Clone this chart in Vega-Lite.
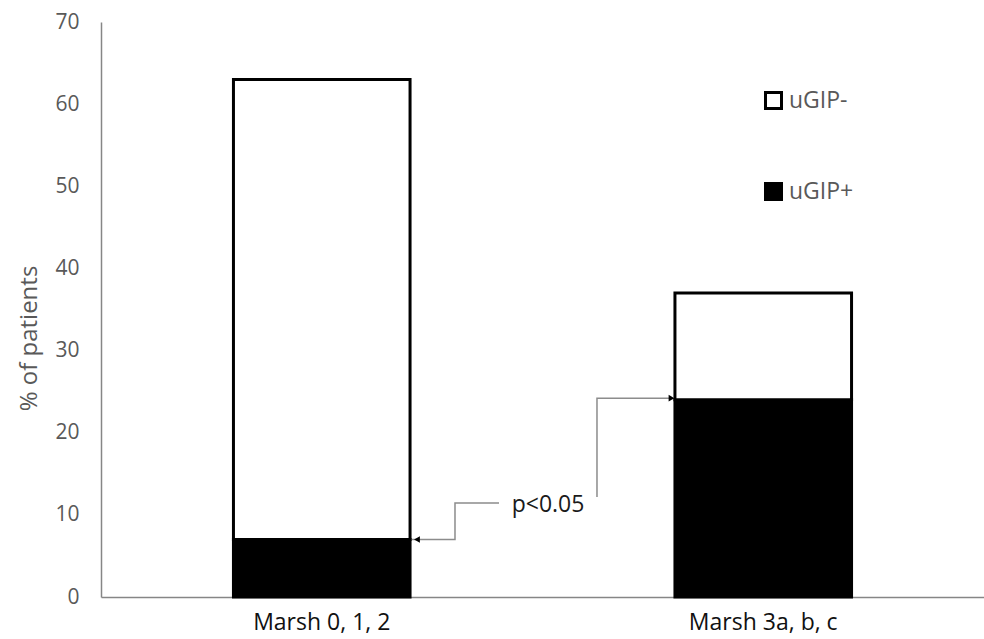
{
  "$schema": "https://vega.github.io/schema/vega-lite/v6.json",
  "width": 883,
  "height": 575,
  "autosize": "none",
  "padding": {"left": 101, "top": 22, "right": 0, "bottom": 42},
  "background": "white",
  "config": {"view": {"stroke": null}},
  "datasets": {
    "bars": [
      {"group": "Marsh 0, 1, 2", "status": "uGIP+", "k": 1, "pct": 7},
      {"group": "Marsh 0, 1, 2", "status": "uGIP-", "k": 2, "pct": 56},
      {"group": "Marsh 3a, b, c", "status": "uGIP+", "k": 1, "pct": 24},
      {"group": "Marsh 3a, b, c", "status": "uGIP-", "k": 2, "pct": 13}
    ],
    "conn": [
      {"seg": "a", "o": 1, "u": 0.7044, "pct": 7},
      {"seg": "a", "o": 2, "u": 0.8018, "pct": 7},
      {"seg": "a", "o": 3, "u": 0.8018, "pct": 11.44},
      {"seg": "a", "o": 4, "u": 0.9015, "pct": 11.44},
      {"seg": "b", "o": 1, "u": 1.1234, "pct": 12.17},
      {"seg": "b", "o": 2, "u": 1.1234, "pct": 24.2},
      {"seg": "b", "o": 3, "u": 1.2924, "pct": 24.2}
    ],
    "arrows": [
      {"u": 0.7157, "pct": 7, "shape": "triangle-left"},
      {"u": 1.2922, "pct": 24.2, "shape": "triangle-right"}
    ],
    "label": [{"u": 1.0125, "pct": 11.2, "t": "p<0.05"}]
  },
  "layer": [
    {
      "data": {"name": "bars"},
      "mark": {"type": "bar", "stroke": "black", "strokeWidth": 3},
      "encoding": {
        "x": {
          "field": "group", "type": "nominal",
          "scale": {"paddingInner": 0.6, "paddingOuter": 0.3},
          "axis": {
            "title": null, "labelAngle": 0, "ticks": false, "domainColor": "#868686", "domainWidth": 1.5,
            "labelFont": "Open Sans", "labelFontSize": 23, "labelColor": "#111111", "labelPadding": 14, "grid": false
          }
        },
        "y": {
          "field": "pct", "type": "quantitative", "stack": "zero",
          "scale": {"domain": [0, 70]},
          "axis": {
            "title": "% of patients", "values": [0, 10, 20, 30, 40, 50, 60, 70],
            "ticks": false, "grid": false, "domainColor": "#868686", "domainWidth": 1.5,
            "labelFont": "Open Sans", "labelFontSize": 21, "labelColor": "#595959", "labelPadding": 22,
            "titleFont": "Open Sans", "titleFontSize": 24, "titleFontWeight": "normal", "titleColor": "#595959",
            "titlePadding": 13, "titleY": 316
          }
        },
        "fill": {
          "field": "status", "type": "nominal",
          "scale": {"domain": ["uGIP-", "uGIP+"], "range": ["white", "black"]},
          "legend": {
            "title": null, "orient": "none", "legendX": 661, "legendY": 67,
            "symbolType": "square", "symbolSize": 256, "symbolStrokeColor": "black", "symbolStrokeWidth": 3,
            "labelFont": "Open Sans", "labelFontSize": 23, "labelColor": "#595959", "labelOffset": 4,
            "rowPadding": 62
          }
        },
        "order": {"field": "k", "type": "quantitative"}
      }
    },
    {
      "data": {"name": "conn"},
      "mark": {"type": "line", "stroke": "#8c8c8c", "strokeWidth": 1.5},
      "encoding": {
        "x": {"field": "u", "type": "quantitative", "scale": {"domain": [0, 2]}, "axis": null},
        "y": {"field": "pct", "type": "quantitative"},
        "detail": {"field": "seg"},
        "order": {"field": "o"}
      }
    },
    {
      "data": {"name": "arrows"},
      "mark": {"type": "point", "filled": true, "color": "black", "size": 45, "opacity": 1},
      "encoding": {
        "x": {"field": "u", "type": "quantitative", "scale": {"domain": [0, 2]}, "axis": null},
        "y": {"field": "pct", "type": "quantitative"},
        "shape": {"field": "shape", "type": "nominal", "scale": null, "legend": null}
      }
    },
    {
      "data": {"name": "label"},
      "mark": {"type": "text", "font": "Open Sans", "fontSize": 23, "color": "#1a1a1a", "align": "center", "baseline": "middle"},
      "encoding": {
        "x": {"field": "u", "type": "quantitative", "scale": {"domain": [0, 2]}, "axis": null},
        "y": {"field": "pct", "type": "quantitative"},
        "text": {"field": "t"}
      }
    }
  ],
  "resolve": {"scale": {"x": "independent"}}
}
